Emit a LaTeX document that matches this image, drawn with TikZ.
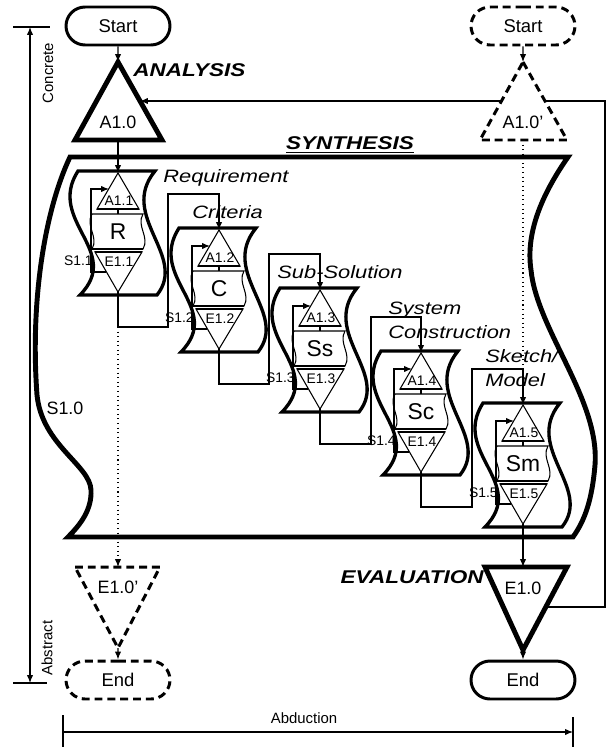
\documentclass[tikz,border=0pt]{standalone}
\usepackage{fontspec}
\setmainfont{Liberation Sans}
\usetikzlibrary{shapes.misc,arrows.meta,calc}

\newcommand{\wide}[1]{\scalebox{1.22}[1]{#1}}

\tikzset{
  line/.style={line width=0.6pt},
  arr/.style={line width=0.6pt,-{Latex[length=4.5pt,width=3.6pt]}},
  term/.style={rounded rectangle, draw, line width=1.7pt, minimum width=2.08cm,
    minimum height=0.76cm, inner sep=0pt, font=\fontsize{10.5}{12}\selectfont},
  termdash/.style={term, dash pattern=on 4.5pt off 2.8pt},
  bigtri/.style={line width=2.8pt},
  dashtri/.style={line width=1.7pt, dash pattern=on 4.5pt off 2.8pt, fill=white},
  modbox/.style={line width=1.9pt},
  inner/.style={line width=0.6pt},
  base/.style={line width=1.4pt},
  idx/.style={font=\fontsize{7.9}{9}\selectfont, inner sep=0pt},
  letter/.style={font=\fontsize{13}{15}\selectfont, inner sep=0pt},
  title/.style={font=\fontsize{10.2}{13.8}\selectfont\itshape, inner sep=0pt,
    anchor=west, align=left},
  phase/.style={font=\fontsize{10.5}{12}\selectfont\bfseries\itshape, inner sep=0pt},
  axis/.style={font=\fontsize{8.5}{10}\selectfont, inner sep=0pt},
  tag/.style={font=\fontsize{10.2}{12}\selectfont, inner sep=0pt}
}

% one synthesis step: name, position, letter, index
\newcommand{\synmodule}[4]{%
  \begin{scope}[shift={#2}]
    \draw[modbox] (-40,0) -- (37,0) .. controls (0,45) and (70,85) .. (39,124)
      -- (-38,124) .. controls (5,80) and (-72,50) .. (-40,0) -- cycle;
    % analysis / solution / evaluation
    \draw[inner] (0,2) -- (21,38) -- (-21,38) -- cycle;
    \draw[base] (-21,38) -- (21,38);
    \draw[inner] (0,38) -- (0,43);
    \draw[inner] (-26,43) -- (25,43) .. controls (18,55) and (32,66) .. (25,78)
      -- (-26,78) .. controls (-19,66) and (-33,55) .. (-26,43) -- cycle;
    \draw[base] (-26,78) -- (25,78);
    \draw[inner] (-23,81) -- (24,81) -- (0,121) -- cycle;
    \draw[base] (-23,81) -- (24,81);
    \node[idx] (#1-a) at (1,30) {A#4};
    \node[letter] (#1-l) at (0,61) {#3};
    \node[idx] (#1-e) at (1,91) {E#4};
    \node[idx, anchor=east] (#1-s) at (-25,90) {S#4};
    \coordinate (#1-top) at (0,2);
    \coordinate (#1-bot) at (0,121);
    \coordinate (#1-in) at (0,-34);
    \coordinate (#1-out) at (0,156);
    \coordinate (#1-la) at (-9,18);
    \coordinate (#1-le) at (-12,101);
    \draw[arr] (#1-le) -- (-27,101) |- (#1-la);
  \end{scope}}

\begin{document}
\begin{tikzpicture}[x=0.02cm, y=-0.02cm]
  \useasboundingbox (0,0) rectangle (606,747);

  % axes
  \coordinate (ax-top) at (30,27);
  \coordinate (ax-bot) at (30,683);
  \coordinate (ax-left) at (63,732);
  \coordinate (ax-right) at (573,732);
  \draw[line] (13,27) -- (50,27);
  \draw[line] (13,683) -- (47,683);
  \draw[line, {Latex[length=4.5pt,width=3.6pt]}-{Latex[length=4.5pt,width=3.6pt]}] (ax-top) -- (ax-bot);
  \draw[line] (63,715) -- (63,747);
  \draw[line] (573,717) -- (573,747);
  \draw[arr] (ax-left) -- (ax-right);
  \node[axis, rotate=90] (concrete) at (48,73) {Concrete};
  \node[axis, rotate=90] (abstract) at (47,648) {Abstract};
  \node[axis] (abduction) at (304,718) {Abduction};

  % synthesis frame
  \draw[bigtri] (70,157) -- (568,157) .. controls (545,190) and (525,230) .. (531,270)
    .. controls (537,330) and (600,400) .. (595,465)
    .. controls (592,500) and (585,520) .. (573,537) -- (68,537)
    .. controls (80,525) and (92,510) .. (91,490)
    .. controls (90,465) and (42,445) .. (37,395)
    .. controls (30,300) and (45,210) .. (70,157) -- cycle;
  \node[phase] (synthesis) at (350,145) {\wide{\underline{SYNTHESIS}}};
  \node[tag] (s10) at (65,408) {S1.0};

  % start and end
  \node[term] (start1) at (118,26) {Start};
  \node[termdash] (start2) at (523,26) {Start};
  \node[term] (end1) at (523,680) {End};
  \node[termdash] (end2) at (118,680) {End};

  % feedback
  \coordinate (a10-fb) at (140,101);
  \coordinate (e10-fb) at (546,607);
  \draw[arr] (e10-fb) -- ++(59,0) |- (a10-fb);

  % analysis
  \draw[bigtri] (118,62) -- (162,140) -- (75,140) -- cycle;
  \coordinate (a10-apex) at (118,62);
  \coordinate (a10-base) at (118,140);
  \node[tag] (a10) at (118,122) {A1.0};
  \node[phase, anchor=west] (analysis) at (133,70) {\wide{ANALYSIS}};
  \draw[dashtri] (523,62) -- (567,140) -- (480,140) -- cycle;
  \coordinate (a10p-apex) at (523,62);
  \coordinate (a10p-base) at (523,140);
  \node[tag] (a10p) at (523,122) {A1.0'};

  % evaluation
  \draw[bigtri] (485,567) -- (567,567) -- (523,650) -- cycle;
  \coordinate (e10-top) at (523,567);
  \coordinate (e10-apex) at (523,650);
  \node[tag] (e10) at (523,588) {E1.0};
  \node[phase, anchor=east] (evaluation) at (484,577) {\wide{EVALUATION}};
  \draw[dashtri] (75,567) -- (160,567) -- (118,648) -- cycle;
  \coordinate (e10p-top) at (118,567);
  \coordinate (e10p-apex) at (118,648);
  \node[tag] (e10p) at (118,587) {E1.0'};

  % steps
  \synmodule{m1}{(118,171)}{R}{1.1}
  \synmodule{m2}{(219,228)}{C}{1.2}
  \synmodule{m3}{(320,288)}{Ss}{1.3}
  \synmodule{m4}{(421,351)}{Sc}{1.4}
  \synmodule{m5}{(523,403)}{Sm}{1.5}
  \node[title] (req) at (163,178) {\wide{Requirement}};
  \node[title] (crit) at (192,212) {\wide{Criteria}};
  \node[title] (sub) at (277,272) {\wide{Sub-Solution}};
  \node[title] (sys) at (388,320) {\wide{System}\\\wide{Construction}};
  \node[title] (sketch) at (485,368) {\wide{Sketch/}\\\wide{Model}};

  % connectors
  \draw[arr] (start1) -- (a10-apex);
  \draw[arr] (start2) -- (a10p-apex);
  \draw[arr] (a10-base) -- (m1-top);
  \draw[arr] (m1-bot) -- (m1-out) -- ++(50,0) |- (m2-in) -- (m2-top);
  \draw[arr] (m2-bot) -- (m2-out) -- ++(50,0) |- (m3-in) -- (m3-top);
  \draw[arr] (m3-bot) -- (m3-out) -- ++(51,0) |- (m4-in) -- (m4-top);
  \draw[arr] (m4-bot) -- (m4-out) -- ++(51,0) |- (m5-in) -- (m5-top);
  \draw[arr] (m5-bot) -- (e10-top);
  \draw[line, dotted] (a10p-base) -- (m5-in);
  \draw[arr, dotted] (m1-out) -- (e10p-top);
  \draw[arr] (e10-apex) -- (end1);
  \draw[arr] (e10p-apex) -- (end2);
\end{tikzpicture}
\end{document}
